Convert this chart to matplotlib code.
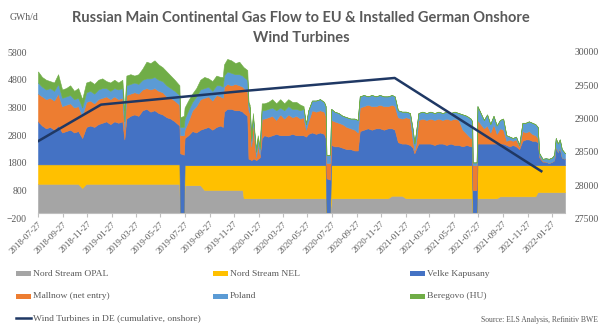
import matplotlib
matplotlib.use("Agg")
import matplotlib.pyplot as plt
from matplotlib.patches import Rectangle
from matplotlib.lines import Line2D
import pandas as pd

# Daily gas flows (GWh/d), sampled at the dates below
dates = [
    "2018-07-27", "2018-08-06", "2018-08-16", "2018-08-26", "2018-09-05", "2018-09-15",
    "2018-09-25", "2018-10-05", "2018-10-15", "2018-10-25", "2018-11-04", "2018-11-14",
    "2018-11-24", "2018-12-04", "2018-12-14", "2018-12-24", "2019-01-03", "2019-01-13",
    "2019-01-23", "2019-02-02", "2019-02-12", "2019-02-22", "2019-02-27", "2019-03-04",
    "2019-03-14", "2019-03-24", "2019-04-03", "2019-04-13", "2019-04-23", "2019-05-03",
    "2019-05-13", "2019-05-23", "2019-06-02", "2019-06-12", "2019-06-22", "2019-07-02",
    "2019-07-14", "2019-07-16", "2019-07-25", "2019-07-27", "2019-08-05", "2019-08-15",
    "2019-08-25", "2019-09-04", "2019-09-14", "2019-09-24", "2019-10-04", "2019-10-14",
    "2019-10-24", "2019-10-30", "2019-11-02", "2019-11-10", "2019-11-20", "2019-11-30",
    "2019-12-10", "2019-12-18", "2019-12-21", "2019-12-30", "2020-01-02", "2020-01-05",
    "2020-01-09", "2020-01-13", "2020-01-17", "2020-01-21", "2020-01-25", "2020-01-30",
    "2020-02-04", "2020-02-10", "2020-02-20", "2020-03-01", "2020-03-11", "2020-03-21",
    "2020-03-31", "2020-04-10", "2020-04-20", "2020-04-30", "2020-05-10", "2020-05-18",
    "2020-05-24", "2020-05-30", "2020-06-08", "2020-06-18", "2020-06-28", "2020-07-08",
    "2020-07-12", "2020-07-14", "2020-07-23", "2020-07-26", "2020-08-03", "2020-08-13",
    "2020-08-23", "2020-09-02", "2020-09-12", "2020-09-22", "2020-09-30", "2020-10-05",
    "2020-10-15", "2020-10-25", "2020-11-04", "2020-11-14", "2020-11-24", "2020-12-04",
    "2020-12-14", "2020-12-24", "2020-12-31", "2021-01-08", "2021-01-18", "2021-01-28",
    "2021-02-07", "2021-02-14", "2021-02-18", "2021-02-22", "2021-02-28", "2021-03-10",
    "2021-03-20", "2021-03-30", "2021-04-09", "2021-04-19", "2021-04-29", "2021-05-09",
    "2021-05-19", "2021-05-29", "2021-06-08", "2021-06-18", "2021-06-28", "2021-07-08",
    "2021-07-12", "2021-07-13", "2021-07-23", "2021-07-25", "2021-08-02", "2021-08-10",
    "2021-08-18", "2021-08-26", "2021-09-03", "2021-09-11", "2021-09-19", "2021-09-27",
    "2021-10-05", "2021-10-13", "2021-10-21", "2021-10-29", "2021-11-06", "2021-11-14",
    "2021-11-22", "2021-11-30", "2021-12-08", "2021-12-16", "2021-12-22", "2021-12-26",
    "2022-01-03", "2022-01-11", "2022-01-19", "2022-01-27", "2022-02-01", "2022-02-05",
    "2022-02-10", "2022-02-15", "2022-02-20", "2022-02-28",
]

opal = [
    1050, 1050, 1050, 1050, 1050, 1050, 1050, 1050, 1050, 1050, 1050, 900,
    1050, 1050, 1050, 1050, 1050, 1050, 1050, 1050, 1050, 1050, 1050, 1050,
    1050, 1050, 1050, 1050, 1050, 1050, 1050, 1050, 1050, 1050, 1050, 1050,
    1050, 0, 0, 1000, 1000, 1000, 1000, 1000, 830, 830, 830, 830,
    830, 830, 830, 830, 830, 830, 830, 830, 530, 530, 530, 530,
    530, 530, 530, 530, 530, 530, 530, 530, 530, 530, 530, 530,
    530, 530, 530, 530, 530, 530, 530, 530, 530, 530, 530, 530,
    530, 0, 0, 530, 530, 530, 530, 530, 530, 530, 530, 530,
    530, 530, 530, 530, 530, 530, 530, 620, 620, 620, 620, 530,
    530, 530, 530, 530, 530, 530, 530, 530, 530, 530, 530, 530,
    530, 530, 530, 530, 530, 530, 530, 0, 0, 530, 530, 530,
    530, 530, 530, 530, 600, 600, 600, 600, 600, 600, 600, 600,
    600, 600, 600, 600, 750, 750, 750, 750, 750, 750, 750, 750,
    750, 750, 750, 750,
]

nel = [
    700, 700, 700, 700, 700, 700, 700, 700, 700, 700, 700, 850,
    700, 700, 700, 700, 700, 700, 700, 700, 700, 700, 700, 700,
    700, 700, 700, 700, 700, 700, 700, 700, 700, 700, 700, 700,
    700, 0, 0, 720, 720, 720, 720, 720, 890, 890, 890, 890,
    890, 890, 890, 890, 890, 890, 890, 890, 1190, 1190, 1190, 1190,
    1190, 1190, 1190, 1190, 1190, 1190, 1190, 1190, 1190, 1190, 1190, 1190,
    1190, 1190, 1190, 1190, 1190, 1190, 1190, 1190, 1190, 1190, 1190, 1190,
    1190, 0, 0, 1190, 1190, 1190, 1190, 1190, 1190, 1190, 1190, 1190,
    1190, 1190, 1190, 1190, 1190, 1190, 1190, 1100, 1100, 1100, 1100, 1190,
    1190, 1190, 1190, 1190, 1190, 1190, 1190, 1190, 1190, 1190, 1190, 1190,
    1190, 1190, 1190, 1190, 1190, 1190, 1190, 0, 0, 1190, 1190, 1190,
    1190, 1190, 1190, 1190, 1120, 1120, 1120, 1120, 1120, 1120, 1120, 1120,
    1120, 1120, 1120, 1120, 970, 970, 970, 970, 970, 970, 970, 970,
    970, 970, 970, 970,
]

velke = [
    1550, 1400, 1300, 1350, 1250, 1400, 1150, 1200, 1250, 1150, 1200, 950,
    1350, 1400, 1350, 1450, 1500, 1550, 1450, 1550, 1500, 1550, 900, 1650,
    1750, 1800, 1750, 1950, 2000, 1900, 1950, 1850, 1800, 1700, 1650, 1550,
    1400, 2150, 2100, 980, 1080, 1230, 1180, 1280, 1330, 1380, 1280, 1380,
    1430, 1380, 1930, 2030, 2030, 1980, 1980, 1930, 1880, 1780, 230, 230,
    180, 230, 230, 180, 230, 280, 980, 1080, 1030, 1080, 1130, 1080,
    1080, 1080, 1130, 1080, 1080, 1080, 1030, 1130, 1180, 1130, 1180, 1130,
    980, 1250, 1200, 730, 680, 680, 630, 580, 580, 530, 530, 1230,
    1280, 1330, 1280, 1330, 1330, 1280, 1330, 1330, 1280, 830, 780, 780,
    730, 630, 430, 580, 780, 780, 780, 780, 730, 780, 780, 730,
    780, 730, 730, 680, 730, 680, 680, 820, 820, 780, 780, 780,
    780, 780, 780, 780, 780, 780, 730, 680, 730, 680, 580, 880,
    930, 930, 880, 880, 830, 280, 130, 130, 80, 130, 180, 680,
    480, 630, 280, 230,
]

mallnow = [
    1000, 1050, 1050, 1050, 1050, 1150, 950, 950, 950, 900, 900, 800,
    900, 900, 850, 900, 900, 900, 900, 900, 850, 850, 350, 850,
    800, 800, 800, 750, 750, 800, 800, 800, 800, 750, 750, 750,
    750, 650, 700, 300, 500, 750, 950, 1100, 1100, 1100, 1050, 1150,
    1050, 1050, 900, 900, 850, 950, 900, 900, 900, 900, 1750, 1650,
    500, 1350, 650, 100, 550, 100, 700, 600, 700, 700, 500, 750,
    600, 750, 600, 700, 600, 650, 250, 450, 800, 800, 800, 800,
    800, 550, 600, 900, 900, 850, 850, 800, 750, 750, 650, 850,
    850, 850, 850, 800, 850, 850, 800, 850, 850, 900, 900, 950,
    950, 250, 100, 200, 850, 900, 850, 900, 900, 900, 850, 950,
    850, 950, 900, 600, 400, 300, 300, 900, 900, 850, 700, 550,
    650, 400, 700, 350, 550, 500, 150, 250, 150, 250, 100, 350,
    250, 300, 250, 200, 150, 50, 30, 0, 0, 0, 0, 0,
    0, 0, 0, 0,
]

poland = [
    400, 350, 350, 350, 350, 350, 300, 300, 300, 300, 300, 300,
    350, 350, 350, 350, 350, 300, 300, 300, 350, 350, 300, 350,
    350, 350, 350, 350, 350, 400, 400, 400, 400, 400, 350, 350,
    350, 300, 300, 400, 400, 300, 350, 350, 350, 350, 350, 350,
    400, 400, 400, 450, 450, 350, 400, 400, 400, 400, 200, 200,
    200, 200, 200, 200, 200, 200, 300, 300, 300, 300, 350, 250,
    300, 300, 300, 250, 300, 300, 200, 400, 350, 400, 400, 350,
    350, 290, 300, 400, 350, 350, 300, 350, 350, 400, 450, 400,
    400, 300, 400, 350, 350, 350, 350, 350, 350, 250, 250, 200,
    200, 400, 250, 400, 250, 250, 250, 250, 250, 250, 250, 250,
    250, 250, 250, 550, 650, 700, 600, 100, 100, 500, 400, 300,
    400, 300, 300, 300, 300, 400, 200, 100, 100, 100, 50, 300,
    350, 350, 400, 400, 400, 100, 70, 120, 150, 150, 200, 300,
    300, 300, 300, 200,
]

beregovo = [
    400, 350, 350, 250, 300, 350, 300, 300, 350, 300, 350, 300,
    350, 350, 350, 350, 350, 250, 300, 300, 250, 300, 400, 350,
    350, 250, 350, 400, 600, 550, 600, 550, 500, 500, 450, 400,
    350, 350, 400, 400, 350, 300, 300, 350, 400, 300, 350, 350,
    300, 350, 400, 450, 450, 400, 450, 350, 350, 350, 100, 100,
    100, 100, 100, 100, 100, 100, 250, 250, 250, 300, 250, 300,
    250, 250, 250, 250, 200, 100, 0, 0, 0, 0, 0, 0,
    0, 0, 0, 0, 0, 0, 0, 0, 0, 0, 0, 0,
    0, 0, 0, 0, 0, 0, 0, 0, 0, 0, 0, 0,
    0, 0, 0, 0, 0, 0, 0, 0, 0, 0, 0, 0,
    0, 0, 0, 0, 0, 0, 0, 0, 0, 0, 0, 0,
    0, 0, 0, 0, 0, 0, 0, 0, 0, 0, 0, 0,
    0, 0, 0, 0, 0, 0, 0, 0, 0, 0, 0, 0,
    0, 0, 0, 0,
]

# Cumulative installed onshore wind turbines in Germany
wind_dates = ["2018-07-27", "2018-12-31", "2019-12-31", "2020-12-31", "2021-12-31"]
wind_turbines = [28660, 29210, 29420, 29610, 28210]

series_names = ["Nord Stream OPAL", "Nord Stream NEL", "Velke Kapusany",
                "Mallnow (net entry)", "Poland", "Beregovo (HU)"]
series_colors = ["#A5A5A5", "#FFC000", "#4472C4", "#ED7D31", "#5B9BD5", "#70AD47"]
wind_name = "Wind Turbines in DE (cumulative, onshore)"
wind_color = "#1F3864"

tick_dates = ["2018-07-27", "2018-09-27", "2018-11-27", "2019-01-27", "2019-03-27",
              "2019-05-27", "2019-07-27", "2019-09-27", "2019-11-27", "2020-01-27",
              "2020-03-27", "2020-05-27", "2020-07-27", "2020-09-27", "2020-11-27",
              "2021-01-27", "2021-03-27", "2021-05-27", "2021-07-27", "2021-09-27",
              "2021-11-27", "2022-01-27"]

series = [opal, nel, velke, mallnow, poland, beregovo]
for s in series:
    assert len(s) == len(dates)

text_gray = "#595959"
serif = ["Liberation Serif", "DejaVu Serif"]

W, H = 602, 325
fig = plt.figure(figsize=(W / 100, H / 100), dpi=100)
fig.patch.set_facecolor("white")

ax_left, ax_right, ax_top, ax_bottom = 38, 565, 52, 218.5
ax = fig.add_axes([ax_left / W, 1 - ax_bottom / H, (ax_right - ax_left) / W, (ax_bottom - ax_top) / H])

x = pd.to_datetime(dates)
polys = ax.stackplot(x, *series, colors=series_colors, linewidth=0)
for p, c in zip(polys, series_colors):
    p.set_edgecolor(c)
    p.set_linewidth(0.4)

ax.set_xlim(pd.Timestamp("2018-07-27"), pd.Timestamp("2022-02-28"))
ax.set_ylim(-200, 5800)
ax.set_yticks(range(-200, 5801, 1000))
for side in ("top", "left", "right"):
    ax.spines[side].set_visible(False)
ax.spines["bottom"].set_position(("data", 0))
ax.spines["bottom"].set_color("#BFBFBF")
ax.spines["bottom"].set_linewidth(0.8)

ax.set_xticks(pd.to_datetime(tick_dates))
ax.set_xticklabels(tick_dates, rotation=45, ha="right", rotation_mode="anchor")
ax.tick_params(axis="x", length=3, color="#BFBFBF", pad=2, labelsize=6.5, labelcolor=text_gray)
ax.tick_params(axis="y", length=0, pad=8, labelsize=7, labelcolor=text_gray)
for lbl in ax.get_xticklabels() + ax.get_yticklabels():
    lbl.set_family(serif)

ax2 = ax.twinx()
ax2.plot(pd.to_datetime(wind_dates), wind_turbines, color=wind_color, linewidth=1.8)
ax2.set_ylim(27500, 30000)
ax2.set_yticks(range(27500, 30001, 500))
for side in ("top", "left", "right", "bottom"):
    ax2.spines[side].set_visible(False)
ax2.tick_params(axis="y", length=0, pad=7, labelsize=7, labelcolor=text_gray)
for lbl in ax2.get_yticklabels():
    lbl.set_family(serif)

# Title and unit
fig.text(0.5, 1 - 17.5 / H, "Russian Main Continental Gas Flow to EU & Installed German Onshore",
         ha="center", va="center", fontsize=10.5, fontweight="bold", color=text_gray, family="Lato")
fig.text(0.5, 1 - 38.5 / H, "Wind Turbines",
         ha="center", va="center", fontsize=10.5, fontweight="bold", color=text_gray, family="Lato")
fig.text(10 / W, 1 - 17 / H, "GWh/d", ha="left", va="center", fontsize=7,
         color=text_gray, family=serif)

# Legend
col_x = [16, 213, 410]
row_y = [273.5, 296, 318]
for i, (name, color) in enumerate(zip(series_names, series_colors)):
    cx = col_x[i % 3]
    cy = row_y[i // 3]
    fig.patches.append(Rectangle((cx / W, 1 - (cy + 2.5) / H), 15 / W, 5 / H,
                                 transform=fig.transFigure, facecolor=color, edgecolor="none"))
    fig.text((cx + 17) / W, 1 - cy / H, name, ha="left", va="center", fontsize=6.8,
             color=text_gray, family=serif)
fig.lines.append(Line2D([col_x[0] / W, (col_x[0] + 15) / W], [1 - row_y[2] / H] * 2,
                        transform=fig.transFigure, color=wind_color, linewidth=1.8))
fig.text((col_x[0] + 17) / W, 1 - row_y[2] / H, wind_name, ha="left", va="center",
         fontsize=6.8, color=text_gray, family=serif)

fig.text(598 / W, 1 - 320.5 / H, "Source: ELS Analysis, Refinitiv BWE", ha="right", va="center",
         fontsize=5.5, color=text_gray, family=serif)

fig.savefig("out.png", dpi=100, facecolor="white")
